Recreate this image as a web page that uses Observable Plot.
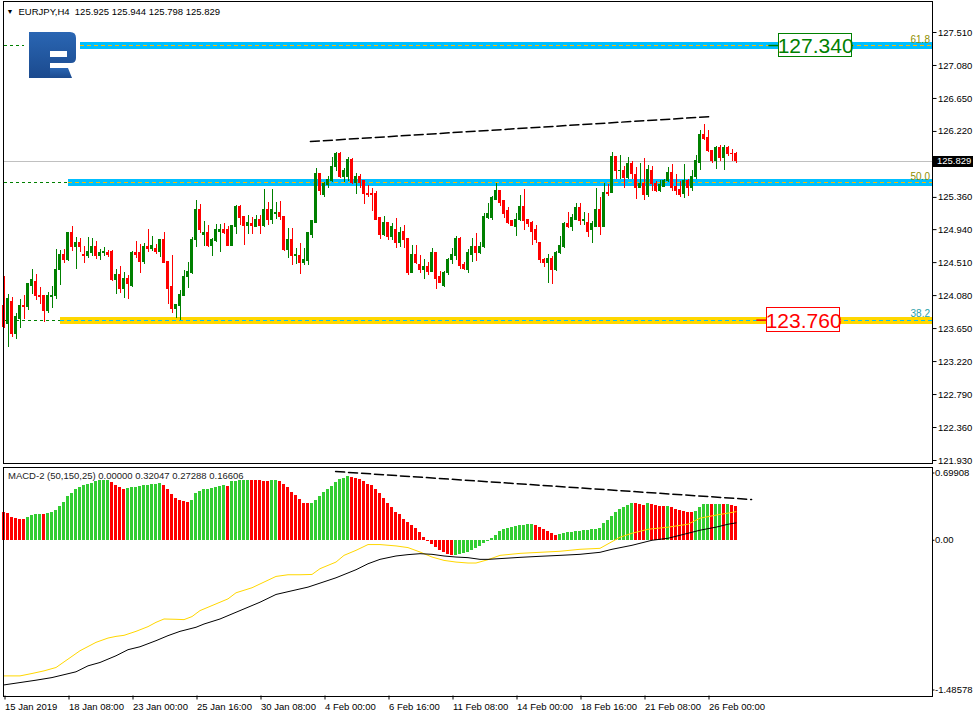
<!DOCTYPE html>
<html><head><meta charset="utf-8">
<script src="https://cdn.jsdelivr.net/npm/d3@7"></script>
<script src="https://cdn.jsdelivr.net/npm/@observablehq/plot@0.6"></script>
<style>
html,body{margin:0;padding:0;background:#fff;}
#chart{position:relative;width:977px;height:716px;overflow:hidden;background:#fff;}
#chart > svg{position:absolute;left:0;}
</style></head><body><div id="chart"></div>
<script>
// ---------- DATA (EURJPY H4, 184 bars) ----------
const open = [
123.95,123.71,123.99,123.58,123.78,123.95,123.93,124.21,124.26,124.08,
124.07,123.88,124.06,124.07,124.41,124.61,124.54,124.89,124.71,124.76,
124.61,124.59,124.63,124.72,124.59,124.63,124.64,124.65,124.28,124.35,
124.16,124.29,124.20,124.63,124.63,124.52,124.72,124.69,124.69,124.65,
124.80,124.52,124.19,123.91,123.94,124.08,124.32,124.38,124.80,125.20,
124.87,124.90,124.73,124.79,124.91,124.94,124.93,124.73,124.97,125.23,
125.10,124.99,125.01,124.98,125.07,124.99,125.19,125.06,125.14,125.16,
125.11,124.67,124.80,124.59,124.60,124.50,124.53,124.87,125.03,125.66,
125.39,125.52,125.58,125.75,125.93,125.63,125.63,125.85,125.55,125.62,
125.58,125.41,125.41,125.40,125.09,124.87,125.02,124.84,124.94,124.76,
124.91,124.82,124.37,124.61,124.48,124.41,124.45,124.39,124.63,124.32,
124.20,124.37,124.54,124.60,124.82,124.48,124.42,124.61,124.72,124.63,
124.71,125.09,125.09,125.33,125.44,125.31,125.18,125.05,124.98,125.06,
125.24,125.06,125.02,124.93,124.77,124.55,124.51,124.56,124.41,124.63,
124.71,125.01,124.98,125.07,125.22,125.05,125.03,124.93,124.98,125.20,
124.98,125.42,125.42,125.89,125.70,125.71,125.61,125.79,125.65,125.48,
125.53,125.39,125.71,125.54,125.44,125.50,125.57,125.68,125.49,125.46,
125.41,125.57,125.48,125.62,125.81,126.18,126.13,125.97,125.84,126.00,
125.87,126.00,125.93,125.925];
const high = [
124.33,124.09,124.06,123.84,124.03,124.08,124.23,124.42,124.35,124.19,
124.07,124.12,124.20,124.68,124.67,124.68,124.90,124.98,124.84,124.82,
124.72,124.84,124.82,124.79,124.68,124.71,124.67,124.67,124.42,124.46,
124.38,124.34,124.65,124.79,124.74,124.76,124.94,124.85,124.75,124.81,
124.90,124.52,124.60,123.97,124.15,124.41,124.51,124.84,125.32,125.27,
125.05,124.99,124.82,125.01,125.01,125.02,124.98,124.99,125.25,125.25,
125.11,125.12,125.10,125.12,125.12,125.46,125.29,125.46,125.29,125.31,
125.11,124.95,124.95,124.69,124.76,124.69,124.89,125.05,125.74,125.67,
125.55,125.63,125.88,125.94,125.94,125.74,125.88,125.87,125.67,125.66,
125.58,125.52,125.48,125.44,125.09,125.11,125.03,125.02,125.09,124.97,
124.99,124.82,124.73,124.73,124.60,124.55,124.51,124.69,124.64,124.39,
124.39,124.56,124.69,124.85,124.84,124.51,124.68,124.82,124.89,124.77,
125.15,125.28,125.37,125.54,125.45,125.32,125.23,125.06,125.15,125.39,
125.46,125.07,125.05,124.99,124.77,124.56,124.61,124.59,124.65,124.85,
125.03,125.16,125.14,125.28,125.28,125.16,125.15,125.05,125.48,125.36,
125.54,125.53,125.94,125.89,125.91,125.76,125.88,125.83,125.75,125.80,
125.87,125.78,125.76,125.57,125.58,125.59,125.75,125.79,125.66,125.57,
125.79,125.59,125.71,125.91,126.23,126.31,126.23,125.97,126.02,126.04,
126.04,126.02,125.98,125.944];
const low = [
123.65,123.40,123.54,123.51,123.65,123.77,123.88,124.09,124.02,123.97,
123.73,123.85,123.91,124.03,124.21,124.50,124.52,124.65,124.42,124.64,
124.50,124.57,124.59,124.55,124.54,124.59,124.58,124.26,124.09,124.11,
124.04,124.03,124.19,124.56,124.37,124.48,124.64,124.65,124.61,124.58,
124.50,123.96,123.84,123.78,123.76,124.07,124.17,124.35,124.71,124.89,
124.72,124.71,124.59,124.77,124.64,124.88,124.73,124.73,124.87,124.99,
124.73,124.87,124.87,124.97,124.87,124.97,124.99,125.01,125.07,125.06,
124.65,124.57,124.47,124.48,124.35,124.47,124.47,124.82,125.02,125.39,
125.36,125.48,125.55,125.70,125.61,125.55,125.57,125.53,125.40,125.48,
125.27,125.36,125.18,125.07,124.81,124.85,124.80,124.80,124.69,124.71,
124.69,124.34,124.37,124.48,124.37,124.29,124.34,124.38,124.16,124.24,
124.19,124.34,124.48,124.54,124.42,124.41,124.37,124.51,124.52,124.61,
124.69,125.07,125.06,125.32,125.24,125.09,125.01,124.98,124.85,125.05,
124.93,124.97,124.73,124.76,124.50,124.45,124.24,124.23,124.39,124.61,
124.69,124.95,124.91,125.06,124.99,124.99,124.84,124.76,124.97,124.86,
124.97,125.37,125.42,125.59,125.59,125.48,125.59,125.59,125.33,125.48,
125.32,125.36,125.44,125.42,125.42,125.49,125.55,125.44,125.39,125.36,
125.35,125.37,125.44,125.59,125.71,126.10,125.94,125.80,125.72,125.83,
125.71,125.89,125.83,125.798];
const close = [
123.67,124.04,123.58,123.80,123.95,123.93,124.23,124.28,124.07,124.06,
123.88,124.07,124.08,124.41,124.61,124.54,124.89,124.71,124.76,124.72,
124.59,124.65,124.72,124.59,124.64,124.65,124.61,124.28,124.35,124.16,
124.29,124.23,124.63,124.61,124.52,124.72,124.69,124.73,124.65,124.80,
124.51,124.17,123.91,123.96,124.09,124.32,124.39,124.81,125.20,124.93,
124.90,124.73,124.80,124.93,124.94,124.90,124.73,124.99,125.23,125.09,
124.99,125.03,124.99,125.07,124.99,125.19,125.06,125.19,125.16,125.10,
124.67,124.80,124.59,124.61,124.50,124.54,124.89,125.05,125.66,125.44,
125.53,125.59,125.76,125.93,125.63,125.70,125.85,125.55,125.62,125.55,
125.40,125.39,125.39,125.07,124.87,125.02,124.84,124.97,124.76,124.90,
124.81,124.37,124.61,124.51,124.41,124.45,124.39,124.63,124.30,124.25,
124.38,124.55,124.61,124.82,124.47,124.43,124.63,124.72,124.63,124.71,
125.11,125.15,125.35,125.44,125.29,125.15,125.03,124.99,125.07,125.24,
125.05,125.01,124.91,124.81,124.54,124.51,124.56,124.41,124.64,124.73,
125.01,124.98,125.09,125.22,125.05,125.07,124.91,125.01,125.20,124.98,
125.42,125.40,125.89,125.70,125.71,125.61,125.79,125.67,125.48,125.53,
125.39,125.72,125.53,125.45,125.52,125.58,125.68,125.48,125.45,125.39,
125.57,125.48,125.63,125.83,126.18,126.12,125.96,125.84,126.00,125.87,
126.00,125.92,125.92,125.829];

// MACD-2 (50,150,25) histogram
const hist = [
0.268,0.259,0.220,0.211,0.201,0.198,0.220,0.236,0.246,0.249,
0.246,0.252,0.262,0.284,0.326,0.364,0.419,0.450,0.486,0.508,
0.524,0.534,0.546,0.562,0.566,0.569,0.572,0.550,0.524,0.502,
0.482,0.492,0.502,0.508,0.514,0.524,0.527,0.530,0.534,0.537,
0.524,0.482,0.438,0.403,0.380,0.367,0.361,0.380,0.444,0.470,
0.482,0.489,0.495,0.502,0.514,0.521,0.514,0.556,0.562,0.566,
0.569,0.572,0.569,0.568,0.566,0.565,0.564,0.567,0.568,0.556,
0.534,0.502,0.460,0.428,0.387,0.355,0.348,0.351,0.380,0.419,
0.454,0.482,0.514,0.553,0.578,0.588,0.604,0.597,0.588,0.578,
0.556,0.534,0.521,0.482,0.444,0.396,0.348,0.310,0.268,0.246,
0.200,0.170,0.140,0.110,0.070,0.030,-0.010,-0.040,-0.070,-0.100,
-0.120,-0.140,-0.150,-0.148,-0.140,-0.130,-0.120,-0.100,-0.080,-0.060,
-0.030,-0.010,0.020,0.050,0.080,0.100,0.110,0.120,0.130,0.140,
0.142,0.150,0.152,0.140,0.120,0.100,0.080,0.060,0.050,0.052,
0.060,0.070,0.072,0.080,0.082,0.090,0.092,0.100,0.102,0.109,
0.157,0.188,0.227,0.268,0.294,0.316,0.332,0.348,0.347,0.345,
0.332,0.348,0.339,0.329,0.323,0.320,0.323,0.310,0.297,0.284,
0.275,0.268,0.265,0.275,0.310,0.339,0.342,0.339,0.342,0.345,
0.342,0.345,0.335,0.32047];

// MACD lines read at sampled bars: [bar, value]
const yellowLine = [[0,-1.294],[2,-1.294],[4,-1.294],[7,-1.271],[10,-1.246],[13,-1.214],[16,-1.134],[19,-1.054],[23,-0.974],[26,-0.933],[28,-0.917],[30,-0.907],[33,-0.869],[36,-0.824],[38,-0.783],[40,-0.751],[43,-0.754],[45,-0.757],[47,-0.728],[49,-0.671],[53,-0.607],[56,-0.559],[58,-0.501],[62,-0.453],[65,-0.399],[68,-0.345],[71,-0.329],[74,-0.329],[77,-0.326],[79,-0.271],[83,-0.208],[85,-0.144],[88,-0.096],[91,-0.041],[94,-0.041],[98,-0.054],[101,-0.070],[104,-0.112],[107,-0.160],[110,-0.192],[113,-0.208],[116,-0.217],[118,-0.217],[121,-0.185],[124,-0.144],[129,-0.125],[134,-0.115],[139,-0.105],[144,-0.086],[149,-0.077],[154,0.029],[157,0.067],[161,0.105],[166,0.125],[171,0.153],[174,0.211],[178,0.240],[181,0.259],[183,0.27288]];
const blackLine = [[0,-1.380],[8,-1.335],[12,-1.310],[18,-1.255],[21,-1.198],[24,-1.166],[28,-1.102],[31,-1.044],[34,-1.016],[38,-0.958],[41,-0.910],[44,-0.869],[48,-0.830],[50,-0.799],[54,-0.751],[58,-0.687],[61,-0.639],[64,-0.591],[68,-0.517],[73,-0.473],[76,-0.447],[79,-0.409],[83,-0.358],[88,-0.281],[91,-0.224],[94,-0.182],[98,-0.150],[101,-0.137],[104,-0.128],[107,-0.134],[110,-0.150],[113,-0.160],[116,-0.166],[119,-0.182],[121,-0.182],[124,-0.175],[129,-0.163],[134,-0.153],[139,-0.144],[144,-0.134],[149,-0.115],[152,-0.086],[157,-0.048],[162,0.0],[166,0.019],[171,0.067],[174,0.096],[178,0.125],[181,0.153],[183,0.16606]];

// Fibonacci levels
const fibLabels = ["61.8","50.0","38.2"];
const fibValues = [127.34, 125.55, 123.76];
const fibStartBar = [19, 16, 14];
// Price tags
const tagValues = [127.340, 123.760];
// Trend lines [bar, value]
const priceTrend = [[76.6,126.089],[177.1,126.415]];
const macdTrend = [[82.9,0.656],[186.9,0.389]];

const priceTicks = [127.510,127.080,126.650,126.220,125.360,124.940,124.510,124.080,123.650,123.220,122.790,122.360,121.930];
const tickBars = [0,16,32,48,64,80,96,112,128,144,160,176];
const tickLabels = ["15 Jan 2019","18 Jan 08:00","23 Jan 00:00","25 Jan 16:00","30 Jan 08:00","4 Feb 00:00","6 Feb 16:00","11 Feb 08:00","14 Feb 00:00","18 Feb 16:00","21 Feb 08:00","26 Feb 00:00"];
const macdTickVals = [0.69908, 0, -1.48578];
const macdTickText = ["0.69908","0.00","-1.48578"];
const headerText = "EURJPY,H4  125.925 125.944 125.798 125.829";
const macdHeader = "MACD-2 (50,150,25) 0.00000 0.32047 0.27288 0.16606";

// ---------- BUILD ----------
const bars = open.map((o,i)=>({i, open:o, high:high[i], low:low[i], close:close[i]}));
const histData = hist.map((v,i)=>({i, v, up: i>0 && v >= hist[i-1]}));
const fib = fibLabels.map((l,k)=>({label:l, value:fibValues[k], start:fibStartBar[k], k}));
const tags = tagValues.map((v,k)=>({value:v, k}));
const lastClose = close[close.length-1];

const bandColor = ["#00BFFF","#00BFFF","#FFD700"];
const bandDash = ["#FFB800","#FFB800","#00BFFF"];
const fibTextColor = ["#8f8f00","#8f8f00","#2a9fa8"];
const tagColor = ["#008000","#FF0000"];
const tagBar = [202.9, 199.9];

const X = {domain:[0,183], range:[3.5,735.5], axis:null, label:null};
const rightBar = (931.5-3.5)/4;
const baseStyle = {background:"transparent", fontFamily:"'Liberation Sans', Arial, sans-serif", fontSize:"9.5px", color:"#000", overflow:"visible"};
const candleColor = d => d.close >= d.open ? "#008000" : "#FF0000";

const p1 = Plot.plot({
  width:977, height:464,
  marginLeft:2.5, marginRight:45.5, marginTop:0.5, marginBottom:1.5,
  x:X,
  y:{domain:[121.93,127.51], range:[460,32], axis:null, label:null},
  style:baseStyle,
  marks:[
    Plot.ruleY([lastClose], {stroke:"#c0c0c0", shapeRendering:"crispEdges"}),
    Plot.ruleY(fib, {y:"value", x1:0, x2:"start", stroke:"#008000", strokeDasharray:"3,3", shapeRendering:"crispEdges"}),
    Plot.ruleY(fib, {y:"value", x1:"start", x2:rightBar, stroke:d=>bandColor[d.k], strokeWidth:7, shapeRendering:"crispEdges"}),
    Plot.ruleY(fib, {y:"value", x1:"start", x2:rightBar, stroke:d=>bandDash[d.k], strokeDasharray:"4,3", shapeRendering:"crispEdges"}),
    Plot.text(fib, {y:"value", text:"label", frameAnchor:"right", textAnchor:"end", dx:-2, dy:-6, fill:d=>fibTextColor[d.k], fontSize:10}),
    Plot.line(priceTrend, {x:d=>d[0], y:d=>d[1], stroke:"#000", strokeDasharray:"9,4"}),
    Plot.ruleX(bars, {x:"i", y1:"low", y2:"high", stroke:candleColor, shapeRendering:"crispEdges"}),
    Plot.rect(bars, {x1:d=>d.i-0.375, x2:d=>d.i+0.375, y1:"open", y2:"close", fill:candleColor, insetTop:-0.5, insetBottom:-0.5, shapeRendering:"crispEdges"}),
    Plot.ruleY(tags, {y:"value", x1:d=>tagBar[d.k]-11.7, x2:d=>tagBar[d.k]-9.2, stroke:d=>tagColor[d.k], strokeWidth:1.5}),
    Plot.rect(tags, {x1:d=>tagBar[d.k]-9.2, x2:d=>tagBar[d.k]+9.2, y1:d=>d.value-0.155, y2:d=>d.value+0.155, fill:"white", stroke:d=>tagColor[d.k], shapeRendering:"crispEdges"}),
    Plot.text(tags, {x:d=>tagBar[d.k], y:"value", text:d=>d.value.toFixed(3), fill:d=>tagColor[d.k], fontSize:21, dy:1}),
    Plot.text(["\u25BC"], {frameAnchor:"top-left", dx:7, dy:10.5, lineAnchor:"middle", textAnchor:"middle", fontSize:7, fill:"#000"}),
    Plot.text([headerText], {frameAnchor:"top-left", dx:15.5, dy:10.5, lineAnchor:"middle", textAnchor:"start", fill:"#000"}),
    Plot.axisY({ticks:priceTicks, anchor:"right", label:null, tickSize:4, tickPadding:2, tickFormat:d=>d.toFixed(3), fill:"#000", stroke:"#000"}),
    Plot.ruleY([lastClose], {insetLeft:930.5, insetRight:-41.5, stroke:"#000", strokeWidth:11, shapeRendering:"crispEdges"}),
    Plot.text([lastClose], {y:d=>d, text:d=>d.toFixed(3), frameAnchor:"right", textAnchor:"start", dx:5, fill:"#fff"}),
    Plot.frame({stroke:"#000", shapeRendering:"crispEdges"})
  ]
});
p1.style.top = "0px";

const p2 = Plot.plot({
  width:977, height:252,
  marginLeft:2.5, marginRight:45.5, marginTop:2.5, marginBottom:20.5,
  x:X,
  y:{domain:[-1.48578,0.69908], range:[231.5,2.5], axis:null, label:null},
  style:baseStyle,
  marks:[
    Plot.rect(histData, {x1:d=>d.i-0.375, x2:d=>d.i+0.375, y1:0, y2:"v", fill:d=>d.up?"#32CD32":"#FF0000", shapeRendering:"crispEdges"}),
    Plot.line(yellowLine, {x:d=>d[0], y:d=>d[1], stroke:"#FFD700", strokeWidth:1}),
    Plot.line(blackLine, {x:d=>d[0], y:d=>d[1], stroke:"#000", strokeWidth:1}),
    Plot.line(macdTrend, {x:d=>d[0], y:d=>d[1], stroke:"#000", strokeDasharray:"9,4"}),
    Plot.text([macdHeader], {frameAnchor:"top-left", dx:5, dy:8.5, lineAnchor:"middle", textAnchor:"start", fill:"#222"}),
    Plot.axisY({ticks:[macdTickVals[0]], anchor:"right", label:null, tickSize:2, tickPadding:1, dy:6, tickFormat:()=>macdTickText[0], fill:"#000", stroke:"#000"}),
    Plot.axisY({ticks:[macdTickVals[1]], anchor:"right", label:null, tickSize:2, tickPadding:1, tickFormat:()=>macdTickText[1], fill:"#000", stroke:"#000"}),
    Plot.axisY({ticks:[macdTickVals[2]], anchor:"right", label:null, tickSize:2, tickPadding:1, dy:-6, tickFormat:()=>macdTickText[2], fill:"#000", stroke:"#000"}),
    Plot.axisX({ticks:tickBars, anchor:"bottom", label:null, tickSize:4, tickPadding:3, textAnchor:"start", dx:1, tickFormat:d=>tickLabels[tickBars.indexOf(d)], fill:"#000", stroke:"#000"}),
    Plot.frame({stroke:"#000", shapeRendering:"crispEdges"})
  ]
});
p2.style.top = "464px";

const chart = document.getElementById("chart");
chart.append(p1);
// decorative broker logo
const logo = document.createElementNS("http://www.w3.org/2000/svg","svg");
logo.setAttribute("width","56"); logo.setAttribute("height","54");
logo.style.left="24px"; logo.style.top="28px";
logo.innerHTML = '<rect width="56" height="54" fill="#fff"/>' +
 '<defs><linearGradient id="lg" x1="0" y1="0" x2="0" y2="1"><stop offset="0" stop-color="#2a66b3"/><stop offset="1" stop-color="#1b4a8e"/></linearGradient></defs>' +
 '<path fill="url(#lg)" fill-rule="evenodd" d="M5,4 H46 Q52,4 52,10 V30 Q52,35 47,35 H26 V50 H5 Z M26,23 H43 V29 H26 Z"/>' +
 '<path fill="url(#lg)" d="M26,40 H44 L48,50 H26 Z"/>';
chart.append(logo);
chart.append(p2);
</script></body></html>
